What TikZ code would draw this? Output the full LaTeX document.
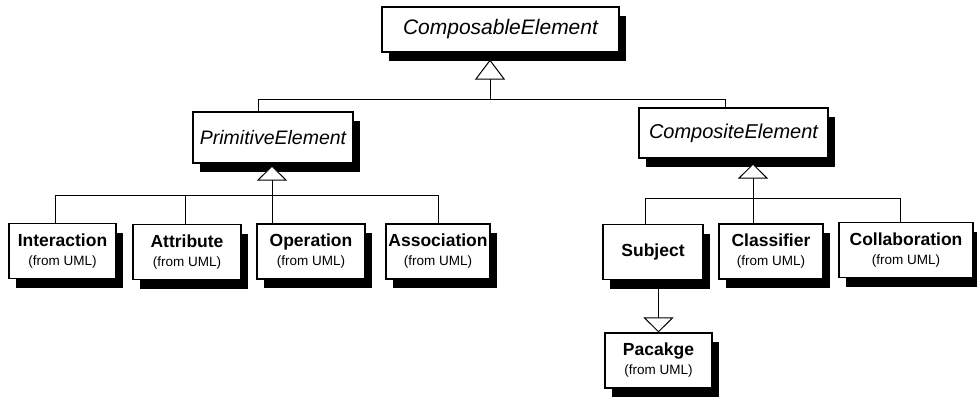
\documentclass[tikz,border=0pt]{standalone}
\usepackage{fontspec}
\setmainfont{Liberation Sans}
\usetikzlibrary{arrows.meta,shadows}

\tikzset{
  umlbox/.style={draw, fill=white, line width=1.1pt, inner sep=0pt, align=center,
    drop shadow={shadow xshift=7pt, shadow yshift=-9pt, fill=black, opacity=1}},
  abstractcls/.style={umlbox, font=\itshape\fontsize{20}{22}\selectfont},
  importcls/.style={umlbox, minimum height=55pt, font=\bfseries\fontsize{17.5}{20}\selectfont},
  gen/.style={line width=1pt, -{Triangle[fill=white, width=30pt, length=15pt, line width=1pt]}},
  biggen/.style={gen, -{Triangle[fill=white, width=30pt, length=20pt, line width=1pt]}},
  link/.style={line width=1pt}
}
\newcommand{\fromuml}{\\[-1pt]{\mdseries\fontsize{13.5}{15}\selectfont (from UML)}}

\begin{document}
\begin{tikzpicture}[x=1pt, y=-1pt]
  \useasboundingbox (0,0) rectangle (977,397);

  % abstract classes
  \node[abstractcls, minimum width=237pt, minimum height=45pt, font=\itshape\fontsize{21}{23}\selectfont] (comp) at (500.5,29.5) {ComposableElement};
  \node[abstractcls, minimum width=160pt, minimum height=51pt, font=\itshape\fontsize{19.5}{22}\selectfont] (prim) at (273,137.5) {PrimitiveElement};
  \node[abstractcls, minimum width=189pt, minimum height=50pt] (compo) at (733.5,133) {CompositeElement};

  % primitive elements
  \node[importcls, minimum width=107pt] (intr) at (62.5,251) {Interaction\fromuml};
  \node[importcls, minimum width=108pt] (attr) at (187,252) {Attribute\fromuml};
  \node[importcls, minimum width=108pt] (oper) at (311,251.5) {Operation\fromuml};
  \node[importcls, minimum width=104pt] (assoc) at (438,251.5) {Association\fromuml};

  % composite elements
  \node[importcls, minimum width=100pt] (subj) at (653,252) {Subject};
  \node[importcls, minimum width=104pt] (clsf) at (771,251.5) {Classifier\fromuml};
  \node[importcls, minimum width=134pt] (collab) at (906,250) {Collaboration\fromuml};
  \node[importcls, minimum width=107pt] (pack) at (658.5,360.5) {Pacakge\fromuml};

  % buses
  \coordinate (tbus) at (490,99);
  \coordinate (pbus) at (272,195);
  \coordinate (cbus) at (753,198);

  % generalizations
  \draw[biggen] (tbus) -- ([yshift=-7pt]tbus |- comp.south);
  \draw[link] (tbus) -| ([xshift=-15pt]prim.north);
  \draw[link] (tbus) -| ([xshift=-8.5pt]compo.north);

  \draw[gen] (pbus) -- ([yshift=-2pt]pbus |- prim.south);
  \draw[link] (pbus) -| ([xshift=-7.5pt]intr.north);
  \draw[link] (pbus) -| ([xshift=-2pt]attr.north);
  \draw[link] (pbus) -- (pbus |- oper.north);
  \draw[link] (pbus) -| (assoc.north);

  \draw[gen] (cbus) -- ([yshift=-5pt]cbus |- compo.south);
  \draw[link] (cbus) -| ([xshift=-8pt]subj.north);
  \draw[link] (cbus) -- (cbus |- clsf.north);
  \draw[link] (cbus) -| ([xshift=-6pt]collab.north);

  \draw[gen] (subj.south -| pack.north) -- (pack.north);
\end{tikzpicture}
\end{document}
